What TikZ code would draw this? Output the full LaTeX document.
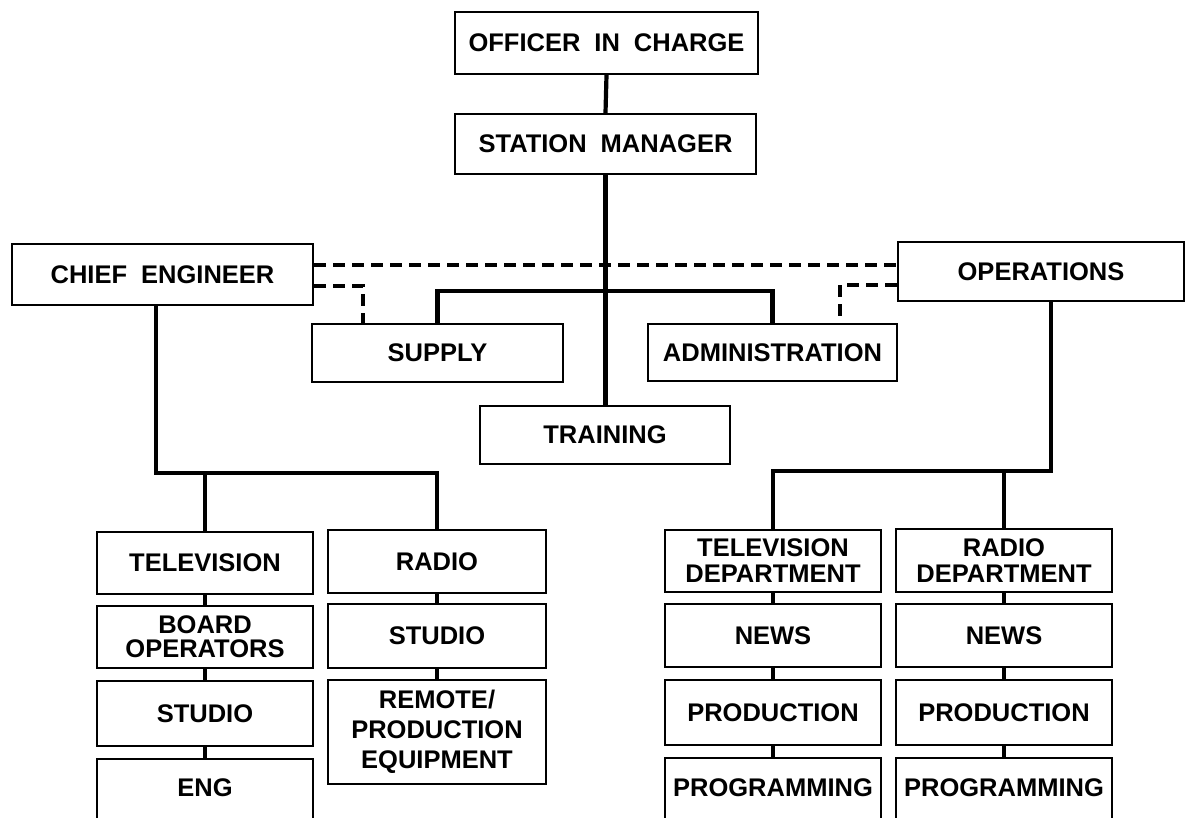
\documentclass[tikz,border=0pt]{standalone}
\usepackage{fontspec}
\setmainfont{Liberation Sans}
\newcommand{\lbl}{\fontsize{25.5}{26}\selectfont\bfseries}
\newcommand{\wsp}{\hspace{0.55em}}
\begin{document}
\begin{tikzpicture}[x=1pt,y=-1pt,
  box/.style={draw, line width=2.3pt, inner sep=0pt, align=center, font=\lbl},
  lbltext/.style={inner sep=0pt, align=center, font=\lbl},
  conn/.style={line width=4.2pt},
  dsh/.style={line width=4.5pt, dash pattern=on 12pt off 7pt},
]
\useasboundingbox (0,0) rectangle (1189,818);
\fill[white] (0,0) rectangle (1189,818);
\clip (0,0) rectangle (1189,818);

% top
\node[box, minimum width=303, minimum height=62] (oic) at (606.5,43) {OFFICER\wsp IN\wsp CHARGE};
\node[box, minimum width=301, minimum height=60] (sm) at (605.5,144) {STATION\wsp MANAGER};
\node[box, minimum width=301, minimum height=61] (ce) at (162.5,274.5) {CHIEF\wsp ENGINEER};
\node[box, minimum width=286, minimum height=59] (ops) at (1041,271.5) {OPERATIONS};
\node[box, minimum width=251, minimum height=58] (supply) at (437.5,353) {SUPPLY};
\node[box, minimum width=249, minimum height=57] (admin) at (772.5,352.5) {ADMINISTRATION};
\node[box, minimum width=250, minimum height=58] (training) at (605,435) {TRAINING};

% left columns
\node[box, minimum width=216, minimum height=62] (tv) at (205,563) {TELEVISION};
\node[box, minimum width=216, minimum height=62, font=\fontsize{25.5}{24}\selectfont\bfseries] (board) at (205,637) {BOARD\\OPERATORS};
\node[box, minimum width=216, minimum height=65] (studioa) at (205,713.5) {STUDIO};
\node[box, minimum width=216, minimum height=100, anchor=north] (eng) at (205,758) {};
\node[lbltext] (engt) at (205,788) {ENG};

\node[box, minimum width=218, minimum height=63] (radio) at (437,561.5) {RADIO};
\node[box, minimum width=218, minimum height=64] (studiob) at (437,636) {STUDIO};
\node[box, minimum width=218, minimum height=104, font=\fontsize{25.5}{30}\selectfont\bfseries] (remote) at (437,732) {REMOTE/\\PRODUCTION\\EQUIPMENT};

% right columns
\node[box, minimum width=216, minimum height=62] (tvd) at (773,561) {TELEVISION\\DEPARTMENT};
\node[box, minimum width=216, minimum height=63] (newsa) at (773,635.5) {NEWS};
\node[box, minimum width=216, minimum height=65] (proda) at (773,712.5) {PRODUCTION};
\node[box, minimum width=216, minimum height=100, anchor=north] (proga) at (773,757) {};
\node[lbltext] (progat) at (773,788) {PROGRAMMING};

\node[box, minimum width=216, minimum height=63] (rd) at (1004,560.5) {RADIO\\DEPARTMENT};
\node[box, minimum width=216, minimum height=63] (newsb) at (1004,635.5) {NEWS};
\node[box, minimum width=216, minimum height=65] (prodb) at (1004,712.5) {PRODUCTION};
\node[box, minimum width=216, minimum height=100, anchor=north] (progb) at (1004,757) {};
\node[lbltext] (progbt) at (1004,788) {PROGRAMMING};

% helper coordinates
\coordinate (hbar) at (605,291);
\coordinate (dU) at (0,265);
\coordinate (dL) at (363,286);
\coordinate (dR) at (840,285);
\coordinate (lbar) at (156,473);
\coordinate (rbar) at (1051,471);

% solid connectors
\draw[conn] (oic.south) -- (sm.north);
\draw[conn] (sm.south) -- (sm.south |- training.north);
\draw[conn] (supply.north) |- (hbar) -| (admin.north);
\draw[conn] (ce.south -| lbar) -- (lbar) -| (radio.north);
\draw[conn] (tv.north) -- (tv.north |- lbar);
\draw[conn] (ops.south -| rbar) -- (rbar) -| (tvd.north);
\draw[conn] (rd.north) -- (rd.north |- rbar);

\draw[conn] (tv.south) -- (board.north);
\draw[conn] (board.south) -- (studioa.north);
\draw[conn] (studioa.south) -- (eng.north);
\draw[conn] (radio.south) -- (studiob.north);
\draw[conn] (studiob.south) -- (remote.north);
\draw[conn] (tvd.south) -- (newsa.north);
\draw[conn] (newsa.south) -- (proda.north);
\draw[conn] (proda.south) -- (proga.north);
\draw[conn] (rd.south) -- (newsb.north);
\draw[conn] (newsb.south) -- (prodb.north);
\draw[conn] (prodb.south) -- (progb.north);

% dashed connectors
\draw[dsh] (ce.east |- dU) -- (ops.west |- dU);
\draw[dsh] (ce.east |- dL) -| (supply.north -| dL);
\draw[dsh] (ops.west |- dR) -| (admin.north -| dR);
\end{tikzpicture}
\end{document}
